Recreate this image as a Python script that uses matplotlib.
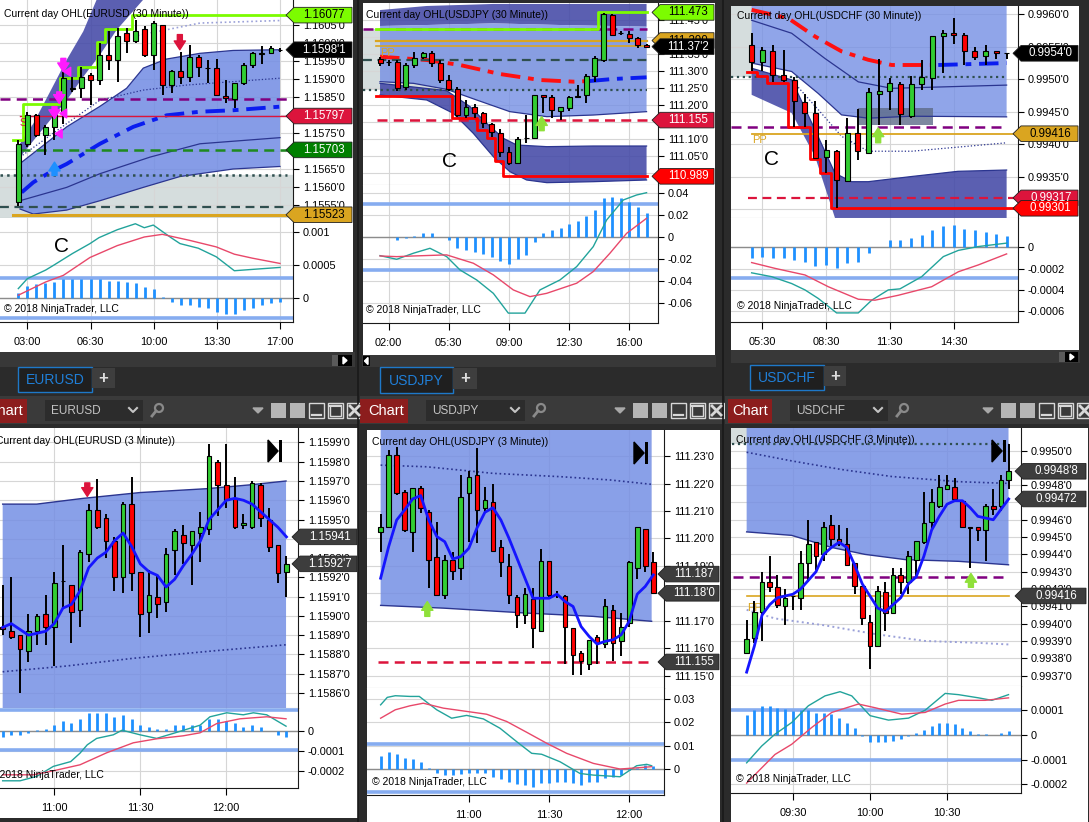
import numpy as np
import matplotlib
matplotlib.use("Agg")
import matplotlib.pyplot as plt
from matplotlib.patches import Rectangle, Polygon, Circle

plt.rcParams["font.family"] = ["Liberation Sans", "DejaVu Sans"]

W, H = 1089, 822

GREEN = "#32cd32"; RED = "#ff0000"; LIME = "#7cfc00"; CRIMSON = "#dc143c"
GOLD = "#daa520"; BAND = "#758fe4"; DARKBAND = "#4449a7"; GRAYZONE = "#d5dddd"
TEAL = "#22a39b"; SIGRED = "#e8486a"; HIST = "#1e90ff"; LEVEL = "#86acf0"
NAVY = "#2b3590"; SLATE = "#2f4f4f"; PURPLE = "#800080"; DKTAG = "#3d3d3d"
ARROWGREEN = "#8fe03a"

# ---------------------------------------------------------------------
# EURUSD 30 min (bars 02:30 .. 17:00)
# ---------------------------------------------------------------------
EU30_O = [1.15558, 1.15718, 1.15799, 1.15744, 1.15767, 1.15804, 1.15872, 1.15874, 1.15911, 1.15897,
          1.15967, 1.15953, 1.16027, 1.16004, 1.16038, 1.15967, 1.1605, 1.15883, 1.15922, 1.15904,
          1.15962, 1.1593, 1.1593, 1.15853, 1.15843, 1.15888, 1.15939, 1.1597, 1.15971, 1.15981]
EU30_H = [1.1573, 1.15809, 1.15804, 1.15771, 1.15813, 1.1592, 1.15906, 1.15934, 1.15916, 1.15999,
          1.16032, 1.16041, 1.16041, 1.16064, 1.16046, 1.1606, 1.1605, 1.15925, 1.15976, 1.15995,
          1.15967, 1.15953, 1.15955, 1.15897, 1.15888, 1.15943, 1.15976, 1.1599, 1.1599, 1.15986]
EU30_L = [1.15548, 1.15711, 1.15739, 1.15688, 1.1573, 1.15776, 1.15864, 1.15846, 1.15827, 1.15883,
          1.15925, 1.15892, 1.15971, 1.15999, 1.15962, 1.15925, 1.15855, 1.15862, 1.15886, 1.15892,
          1.15904, 1.15888, 1.15855, 1.15832, 1.15818, 1.15883, 1.1593, 1.1594, 1.15971, 1.15976]
EU30_C = [1.1572, 1.15799, 1.15744, 1.15767, 1.15804, 1.15902, 1.15876, 1.15906, 1.15897, 1.15967,
          1.15953, 1.16018, 1.16004, 1.16032, 1.15967, 1.16055, 1.15883, 1.15923, 1.15904, 1.15962,
          1.15934, 1.15931, 1.15855, 1.15846, 1.15888, 1.15939, 1.15971, 1.15972, 1.15985, 1.15981]
EU30_HIST = [0.000066, 0.000177, 0.000207, 0.000217, 0.00024, 0.00028, 0.00028, 0.00028, 0.00028, 0.00028,
             0.00025, 0.00025, 0.00024, 0.00022, 0.00016, 0.00013, 0.00002, -0.00006, -0.00011, -0.00011,
             -0.00014, -0.00015, -0.00021, -0.00025, -0.00024, -0.00019, -0.00015, -0.00011, -0.00008, -0.00006]
EU30_MACD_X = [0, 1, 3.03, 4, 6, 7.94, 8.94, 10.97, 12.97, 13.96, 14.96, 16.92, 17.92, 19.95, 21.94, 23.94, 25.93, 29]
EU30_MACD = [0.00014, 0.00029, 0.00042, 0.0005, 0.00067, 0.00082, 0.00091, 0.00103, 0.00112, 0.00106,
             0.0011, 0.00091, 0.00082, 0.00075, 0.00062, 0.00041, 0.00043, 0.00046]
EU30_SIG_X = [0, 3.03, 4.99, 7.94, 10.97, 13.96, 15.96, 18.95, 21.94, 23.94, 25.93, 29]
EU30_SIG = [0.00004, 0.00024, 0.00034, 0.00061, 0.00079, 0.00092, 0.00096, 0.00087, 0.00077, 0.00066, 0.0006, 0.00052]
EU30_BAND_UP_X = [0.18, 3.51, 5.36, 9.05, 12.0, 13.85, 16.4, 20.13, 23.8, 29.0]
EU30_BAND_UP = [1.15665, 1.1573, 1.15767, 1.15824, 1.15874, 1.1593, 1.15955, 1.15971, 1.15979, 1.15981]
EU30_BAND_LO_X = [0.18, 1.66, 5.36, 9.05, 13.85, 17.9, 23.8, 29.0]
EU30_BAND_LO = [1.15539, 1.15525, 1.15536, 1.15562, 1.15599, 1.15629, 1.1565, 1.15657]
EU30_DARK_LO_X = [0.18, 3.51, 5.36, 7.2, 9.05, 10.9, 13.85]
EU30_DARK_LO = [1.15683, 1.15785, 1.15841, 1.15906, 1.15967, 1.16036, 1.1612]
EU30_DARK_UP_X = [0.18, 1.66, 3.51, 5.36, 7.2, 8.68, 13.85]
EU30_DARK_UP = [1.1572, 1.15776, 1.15864, 1.15953, 1.16032, 1.1612, 1.1635]
EU30_VWAP_X = [0.37, 1.66, 3.51, 5.36, 9.05, 12.74, 16.44, 20.13, 23.8, 29.0]
EU30_VWAP = [1.15585, 1.15613, 1.15641, 1.15664, 1.1572, 1.15767, 1.15799, 1.15809, 1.15813, 1.15823]
EU30_SD1_X = [0.18, 5.36, 9.05, 13.85, 18.66, 29.0]
EU30_SD1 = [1.15683, 1.15776, 1.15841, 1.15869, 1.15883, 1.15902]
EU30_SDM1_X = [0.18, 5.36, 9.05, 14.6, 20.13, 29.0]
EU30_SDM1 = [1.15562, 1.15599, 1.15637, 1.15683, 1.1572, 1.15737]
EU30_SD2_X = [12.74, 20.13, 29.0]
EU30_SD2 = [1.16018, 1.16055, 1.16062]
EU30_HIGH_X = [-0.55, 0.55, 4.62, 6.65, 8.68, 9.6, 12.56, 29.74]
EU30_HIGH = [1.1573, 1.15831, 1.15902, 1.15934, 1.16002, 1.16039, 1.16077, 1.16077]

# ---------------------------------------------------------------------
# USDJPY 30 min (bars 01:30 .. 17:00)
# ---------------------------------------------------------------------
UJ30_O = [111.334, 111.3276, 111.3276, 111.2537, 111.3177, 111.3404, 111.3522, 111.3246, 111.2734, 111.2459,
          111.1701, 111.1927, 111.175, 111.1435, 111.1179, 111.0618, 111.0293, 111.1012, 111.1012, 111.2291,
          111.2222, 111.1829, 111.1897, 111.2222, 111.2291, 111.2852, 111.3325, 111.4654, 111.4112, 111.4093,
          111.3965, 111.3768]
UJ30_H = [111.3404, 111.3325, 111.3325, 111.3226, 111.357, 111.357, 111.36, 111.3325, 111.288, 111.2518,
          111.2144, 111.2026, 111.1799, 111.1474, 111.1278, 111.0766, 111.1041, 111.17, 111.2291, 111.2291,
          111.2291, 111.1927, 111.2262, 111.2587, 111.2911, 111.3443, 111.4703, 111.4683, 111.4191, 111.4191,
          111.3994, 111.3807]
UJ30_L = [111.3148, 111.3148, 111.2419, 111.2439, 111.3079, 111.3345, 111.3128, 111.2656, 111.2419, 111.1632,
          111.1602, 111.1602, 111.1307, 111.1041, 111.047, 111.0224, 111.0274, 111.0884, 111.0982, 111.175,
          111.1602, 111.1553, 111.1829, 111.2193, 111.2045, 111.2685, 111.3276, 111.4033, 111.4063, 111.3837,
          111.3669, 111.3689]
UJ30_C = [111.323, 111.3276, 111.2488, 111.3177, 111.3374, 111.3522, 111.3246, 111.2734, 111.2459, 111.1701,
          111.1927, 111.175, 111.1455, 111.1209, 111.0618, 111.0293, 111.0982, 111.1012, 111.2291, 111.2222,
          111.1848, 111.1927, 111.2222, 111.2272, 111.2852, 111.3374, 111.4683, 111.4063, 111.4112, 111.3965,
          111.3768, 111.372]
UJ30_HIST = [0.0, 0.0003, -0.0024, -0.001, 0.0012, 0.0036, 0.0036, 0.0, -0.0024, -0.01,
             -0.012, -0.0136, -0.015, -0.0176, -0.0212, -0.0242, -0.02, -0.016, -0.004, 0.0036,
             0.0067, 0.0082, 0.0121, 0.0152, 0.0194, 0.0248, 0.0355, 0.0364, 0.0355, 0.0324, 0.0279, 0.0218]
UJ30_MACD_X = [0, 1.94, 3.88, 5.81, 7.75, 9.3, 11.24, 13.18, 14.92, 16.86, 18.6, 20.93, 22.87, 24.8, 26.36, 28.3, 29.84, 31]
UJ30_MACD = [-0.0167, -0.02, -0.0145, -0.01, -0.0176, -0.0297, -0.0388, -0.051, -0.069, -0.069,
             -0.0479, -0.0388, -0.0267, -0.0085, 0.0158, 0.034, 0.0385, 0.0406]
UJ30_SIG_X = [0, 1.94, 3.88, 7.75, 10.85, 13.18, 15.5, 17.44, 19.38, 22.87, 24.8, 26.74, 28.68, 31]
UJ30_SIG = [-0.017, -0.0176, -0.017, -0.016, -0.0236, -0.0342, -0.0479, -0.054, -0.051, -0.0418,
            -0.0312, -0.0145, 0.0036, 0.0173]
UJ30_TOP_X = [0, 5.43, 13.18, 20.93, 31.0]
UJ30_TOP_LO = [111.4329, 111.4358, 111.4407, 111.4358, 111.4309]
UJ30_TOP_UP = [111.48, 111.492, 111.498, 111.498, 111.498]
UJ30_BAND_LO_X = [0, 3.88, 7.75, 11.24, 15.1, 19.4, 24.8, 31.0]
UJ30_BAND_LO = [111.2685, 111.2636, 111.2459, 111.2144, 111.18, 111.1652, 111.17, 111.18]
UJ30_DARK_UP_X = [0, 7.75, 10.47, 12.4, 14.34, 15.9, 19.4, 24.8, 31.0]
UJ30_DARK_UP = [111.2636, 111.2419, 111.1947, 111.1455, 111.1012, 111.0815, 111.0766, 111.0785, 111.0785]
UJ30_DARK_LO_X = [0, 5.43, 8.53, 10.85, 13.18, 15.1, 17.05, 19.4, 24.8, 31.0]
UJ30_DARK_LO = [111.2291, 111.2144, 111.175, 111.116, 111.047, 111.0028, 110.9782, 110.9703, 110.9732, 110.9782]
UJ30_VWAP_RED_X = [0, 5.43, 9.3, 13.95, 18.6, 22.5, 24.4]
UJ30_VWAP_RED = [111.3423, 111.3325, 111.3177, 111.2911, 111.2734, 111.2685, 111.2705]
UJ30_VWAP_BLUE_X = [24.4, 27.1, 31.0]
UJ30_VWAP_BLUE = [111.2705, 111.2764, 111.2813]
UJ30_LOW_X = [-0.47, 8.33, 11.32, 12.4, 13.37, 14.34, 31.0]
UJ30_LOW = [111.2262, 111.1602, 111.1258, 111.1012, 111.0342, 110.989, 110.989]
UJ30_HIGH_X = [-0.47, 25.4, 31.0]
UJ30_HIGH = [111.423, 111.473, 111.473]

# ---------------------------------------------------------------------
# USDCHF 30 min (bars 05:00 .. 17:00)
# ---------------------------------------------------------------------
UC30_O = [0.99553, 0.99527, 0.99544, 0.99507, 0.99499, 0.99465, 0.99448, 0.9938, 0.9939, 0.99343,
          0.99417, 0.99387, 0.99478, 0.99482, 0.99493, 0.99443, 0.99492, 0.99502, 0.99567, 0.99572,
          0.99568, 0.99543, 0.99536, 0.99543, 0.9954]
UC30_H = [0.99571, 0.9955, 0.99553, 0.99545, 0.99503, 0.99477, 0.99466, 0.99407, 0.99391, 0.9944,
          0.99454, 0.99486, 0.99532, 0.99502, 0.99496, 0.99505, 0.9953, 0.99567, 0.99576, 0.99595,
          0.99572, 0.9955, 0.99553, 0.99543, 0.9954]
UC30_L = [0.99512, 0.99512, 0.99496, 0.99496, 0.99427, 0.99427, 0.99377, 0.99355, 0.99301, 0.99343,
          0.99375, 0.99387, 0.9943, 0.99453, 0.9943, 0.9944, 0.99484, 0.99483, 0.9951, 0.99555,
          0.99522, 0.9953, 0.99522, 0.99532, 0.99531]
UC30_C = [0.99527, 0.99545, 0.99507, 0.99499, 0.99466, 0.99448, 0.99378, 0.99391, 0.99345, 0.99417,
          0.99389, 0.9948, 0.99482, 0.99494, 0.99447, 0.99493, 0.99503, 0.99567, 0.99571, 0.99568,
          0.99543, 0.99534, 0.99543, 0.9954, 0.9954]
UC30_HIST = [-0.000104, -0.000088, -0.0001, -0.0001, -0.00012, -0.000135, -0.000176, -0.000166, -0.000198, -0.00015,
             -0.000135, -0.00005, 0.000005, 0.000063, 0.000063, 0.000085, 0.000116, 0.000163, 0.0002, 0.000207,
             0.00017, 0.000163, 0.000138, 0.000126, 0.000107]
UC30_MACD_X = [0, 1.88, 3.76, 5.02, 6.27, 7.99, 10.03, 11.29, 12.85, 13.95, 15.99, 18.03, 19.44, 21.32, 23.98]
UC30_MACD = [-0.00024, -0.000276, -0.00034, -0.0004, -0.00048, -0.000615, -0.000615, -0.000496, -0.0004, -0.00039,
             -0.000276, -0.000088, -0.00003, 0.000006, 0.000038]
UC30_SIG_X = [0, 2.19, 5.02, 7.21, 10.03, 11.6, 13.79, 16.93, 19.44, 21.32, 23.98]
UC30_SIG = [-0.000144, -0.000198, -0.00026, -0.00037, -0.000487, -0.000496, -0.00045, -0.00037, -0.00023,
            -0.000166, -0.000063]
UC30_BAND_LO_X = [0, 3.76, 6.27, 8.46, 10.97, 15.05, 23.98]
UC30_BAND_LO = [0.99525, 0.99512, 0.99478, 0.99445, 0.9944, 0.99443, 0.99442]
UC30_DARK_UP_X = [0, 3.76, 5.96, 7.84, 9.4, 10.97, 15.05, 19.4, 23.98]
UC30_DARK_UP = [0.99517, 0.99499, 0.99422, 0.99355, 0.99342, 0.99342, 0.9935, 0.99358, 0.9936]
UC30_DARK_LO_X = [0, 3.76, 5.96, 7.84, 23.98]
UC30_DARK_LO = [0.99476, 0.99448, 0.99381, 0.99286, 0.9928]
UC30_VWAP_RED_X = [0, 3.45, 5.96, 8.46, 10.97, 13.17, 16.3, 17.55]
UC30_VWAP_RED = [0.99607, 0.99594, 0.99566, 0.99543, 0.9953, 0.99522, 0.99522, 0.99522]
UC30_VWAP_BLUE_X = [17.55, 23.98]
UC30_VWAP_BLUE = [0.99522, 0.99525]
UC30_SD1_X = [0, 3.76, 6.9, 10.03, 13.17, 23.98]
UC30_SD1 = [0.99591, 0.99571, 0.99532, 0.99496, 0.99486, 0.99491]
UC30_SDM_X = [3.76, 6.27, 8.46, 10.97, 15.05, 23.98]
UC30_SDM = [0.99499, 0.99453, 0.99412, 0.99389, 0.99389, 0.99402]
UC30_LOW_X = [-0.47, 0.47, 1.41, 3.45, 5.49, 6.43, 7.46, 25.05]
UC30_LOW = [0.99511, 0.99505, 0.99494, 0.99426, 0.99377, 0.99355, 0.99301, 0.99301]

# ---------------------------------------------------------------------
# EURUSD 3 min (bars 10:42 .. 12:21)
# ---------------------------------------------------------------------
EU3_O = [1.15894, 1.15892, 1.1589, 1.15882, 1.15892, 1.15901, 1.15894, 1.15918, 1.15916, 1.15903,
         1.15932, 1.15955, 1.15951, 1.15939, 1.1592, 1.15958, 1.15923, 1.15902, 1.1591, 1.15907,
         1.15934, 1.15942, 1.15937, 1.15943, 1.15945, 1.1598, 1.15968, 1.15961, 1.15947, 1.15946,
         1.15968, 1.1595, 1.15937, 1.15923]
EU3_H = [1.15916, 1.1592, 1.1589, 1.15901, 1.15901, 1.15911, 1.15923, 1.15937, 1.15916, 1.15934,
         1.15958, 1.15971, 1.15953, 1.15941, 1.15959, 1.15972, 1.15923, 1.15924, 1.15921, 1.15935,
         1.15945, 1.15947, 1.15944, 1.15954, 1.15989, 1.15981, 1.15989, 1.15972, 1.15953, 1.1597,
         1.15969, 1.15956, 1.15937, 1.15931]
EU3_L = [1.1589, 1.15888, 1.1586, 1.15876, 1.15885, 1.15885, 1.15874, 1.15904, 1.15886, 1.15894,
         1.15928, 1.15945, 1.1593, 1.15913, 1.15912, 1.15913, 1.15889, 1.15891, 1.15899, 1.15902,
         1.15921, 1.15927, 1.15916, 1.15928, 1.15942, 1.15952, 1.15956, 1.15945, 1.15945, 1.15945,
         1.15946, 1.15933, 1.15917, 1.1591]
EU3_C = [1.15893, 1.15889, 1.15883, 1.15892, 1.159, 1.15894, 1.15917, 1.15918, 1.15902, 1.15933,
         1.15955, 1.15946, 1.15939, 1.1592, 1.15958, 1.15922, 1.15901, 1.15911, 1.15906, 1.15932,
         1.15944, 1.15938, 1.15944, 1.15946, 1.15983, 1.15968, 1.1596, 1.15946, 1.15948, 1.15969,
         1.15951, 1.15936, 1.15922, 1.15927]
EU3_MA = [1.15894, 1.15896, 1.15893, 1.1589, 1.15891, 1.15892, 1.15896, 1.15904, 1.15906, 1.15913,
          1.15925, 1.1593, 1.15933, 1.15939, 1.15943, 1.15936, 1.15927, 1.15923, 1.15921, 1.15915,
          1.15919, 1.15926, 1.15932, 1.15939, 1.1595, 1.15955, 1.1596, 1.15961, 1.1596, 1.15958,
          1.15954, 1.1595, 1.15946, 1.15941]
EU3_HIST = [-0.00003, -0.00002, -0.00002, -0.00001, 0.000003, 0.00001, 0.00003, 0.00005, 0.00004, 0.00006,
            0.00009, 0.00009, 0.00009, 0.00007, 0.00008, 0.00006, 0.00003, 0.00002, 0.00001, 0.00001,
            0.00003, 0.00003, 0.00003, 0.00003, 0.00006, 0.00006, 0.00005, 0.00004, 0.00002, 0.00003,
            0.00002, 0.0, -0.00002, -0.00003]
EU3_MACD_X = [0, 2.02, 3.95, 5.89, 7.91, 8.99, 9.84, 10.93, 12.87, 13.88, 15.97, 17.9, 19.84, 22.95, 24.1,
              26.05, 27.98, 29.15, 30.7, 32.95]
EU3_MACD = [-0.00025, -0.00025, -0.000228, -0.000178, -0.000154, -0.000112, -0.00007, -0.000038, -0.00002, 0.000003,
            -0.00002, -0.000038, -0.000013, 0.000028, 0.00007, 0.00009, 0.00008, 0.00009, 0.00008, 0.000023]
EU3_SIG_X = [0, 3.57, 5.89, 8.99, 12.09, 15.19, 17.9, 21.0, 22.95, 24.88, 27.6, 30.7, 32.95]
EU3_SIG = [-0.00022, -0.00022, -0.0002, -0.00017, -0.00011, -0.00006, -0.00004, -0.000025, -0.00001,
           0.000036, 0.00006, 0.00007, 0.00006]
EU3_BAND_X = [0, 3.95, 9.38, 15.97, 23.7, 28.76, 32.95]
EU3_BAND = [1.15958, 1.15958, 1.15961, 1.15964, 1.15966, 1.15968, 1.1597]
EU3_DOT_X = [0, 7.44, 15.2, 24.9, 32.95]
EU3_DOT = [1.15871, 1.15874, 1.15878, 1.15882, 1.15885]

# ---------------------------------------------------------------------
# USDJPY 3 min (bars 10:27 .. 12:09)
# ---------------------------------------------------------------------
UJ3_O = [111.2025, 111.2043, 111.2304, 111.217, 111.2022, 111.2182, 111.2098, 111.1931, 111.1795, 111.1922,
         111.1891, 111.2164, 111.2231, 111.2112, 111.2131, 111.197, 111.1901, 111.1785, 111.1722, 111.178,
         111.1664, 111.1918, 111.1795, 111.1792, 111.1673, 111.1582, 111.1542, 111.1639, 111.1615, 111.174,
         111.1625, 111.1691, 111.1892, 111.2035, 111.1913]
UJ3_H = [111.2088, 111.2322, 111.2334, 111.2176, 111.2182, 111.2192, 111.2104, 111.2061, 111.194, 111.1952,
         111.2231, 111.2245, 111.2328, 111.2188, 111.22, 111.1994, 111.1942, 111.1795, 111.1819, 111.1821,
         111.1962, 111.1918, 111.1807, 111.1795, 111.1673, 111.1588, 111.1631, 111.1649, 111.178, 111.1758,
         111.1728, 111.1916, 111.2043, 111.2035, 111.1952]
UJ3_L = [111.1952, 111.2043, 111.2158, 111.2022, 111.1952, 111.2092, 111.1821, 111.1795, 111.178, 111.1849,
         111.1849, 111.1988, 111.1982, 111.2092, 111.1955, 111.1861, 111.1761, 111.1673, 111.1688, 111.16,
         111.1664, 111.1782, 111.1782, 111.1542, 111.1504, 111.1504, 111.1522, 111.1542, 111.16, 111.1552,
         111.157, 111.1679, 111.1853, 111.1879, 111.18]
UJ3_C = [111.2043, 111.2304, 111.2164, 111.2031, 111.2182, 111.211, 111.1922, 111.1795, 111.1922, 111.1882,
         111.2152, 111.2225, 111.2104, 111.214, 111.1955, 111.1913, 111.1795, 111.1722, 111.1797, 111.1673,
         111.1918, 111.1795, 111.1795, 111.1676, 111.1574, 111.1552, 111.1631, 111.1619, 111.1752, 111.1619,
         111.1679, 111.1913, 111.2043, 111.1901, 111.18]
UJ3_MA = [111.1855, 111.197, 111.2067, 111.2104, 111.2144, 111.2156, 111.2067, 111.2007, 111.1988, 111.1925,
          111.1934, 111.1964, 111.2037, 111.2095, 111.2112, 111.2067, 111.2001, 111.1928, 111.1855, 111.1782,
          111.1782, 111.1782, 111.1797, 111.177, 111.1752, 111.1679, 111.1643, 111.1615, 111.1625, 111.1631,
          111.1649, 111.1698, 111.1797, 111.1825, 111.1867]
UJ3_HIST = [0.0057, 0.0071, 0.0063, 0.0046, 0.0041, 0.0031, 0.0003, -0.0019, -0.0026, -0.0026,
            -0.0023, -0.0019, -0.0019, -0.0019, -0.0033, -0.0043, -0.0054, -0.0066, -0.0069, -0.0076,
            -0.0061, -0.0061, -0.0054, -0.0054, -0.0061, -0.0069, -0.0057, -0.0054, -0.0037, -0.0033,
            -0.0026, -0.0004, 0.0003, 0.0017, 0.0014]
UJ3_MACD_X = [0, 0.83, 1.83, 3.66, 4.82, 6.99, 8.86, 10.73, 12.81, 14.89, 16.96, 18.84, 20.08, 22.37, 24.86,
              26.53, 29.85, 31.93, 33.18, 33.8]
UJ3_MACD = [0.0274, 0.0306, 0.0313, 0.031, 0.031, 0.0253, 0.0217, 0.0229, 0.0214, 0.0174,
            0.0117, 0.0067, 0.0063, 0.0031, -0.0019, -0.0026, -0.0033, 0.0014, 0.002, 0.0014]
UJ3_SIG_X = [0, 1.83, 3.66, 5.32, 7.82, 10.73, 13.22, 15.72, 18.21, 20.71, 23.2, 26.53, 29.85, 32.35, 33.8]
UJ3_SIG = [0.0217, 0.0253, 0.027, 0.0281, 0.026, 0.0246, 0.0234, 0.0203, 0.0157, 0.011, 0.0067, 0.0024,
           0.0, 0.0006, 0.001]
UJ3_BAND_X = [0, 7.82, 18.2, 26.5, 33.8]
UJ3_BAND = [111.1756, 111.1746, 111.1728, 111.1716, 111.1698]
UJ3_DOT_X = [0, 5.74, 14.05, 22.4, 28.6, 33.8]
UJ3_DOT = [111.2267, 111.2261, 111.2237, 111.2225, 111.2213, 111.2197]

# ---------------------------------------------------------------------
# USDCHF 3 min (bars 09:12 .. 10:54)
# ---------------------------------------------------------------------
UC3_O = [0.99383, 0.99392, 0.99407, 0.99424, 0.99421, 0.9941, 0.99416, 0.99415, 0.99435, 0.99447,
         0.9944, 0.99457, 0.99449, 0.99446, 0.99435, 0.99422, 0.99401, 0.99387, 0.99418, 0.99406,
         0.99428, 0.99424, 0.99437, 0.99447, 0.99459, 0.99468, 0.99478, 0.99479, 0.99471, 0.99456,
         0.99456, 0.99454, 0.99468, 0.99468, 0.99483]
UC3_H = [0.99402, 0.99413, 0.9943, 0.99439, 0.99428, 0.9942, 0.99416, 0.99442, 0.9946, 0.99447,
         0.99459, 0.99463, 0.99457, 0.99455, 0.99435, 0.99422, 0.99405, 0.99422, 0.99424, 0.99432,
         0.99432, 0.99442, 0.99448, 0.99476, 0.99478, 0.99486, 0.99486, 0.99484, 0.99471, 0.99456,
         0.99456, 0.99469, 0.99478, 0.99486, 0.99504]
UC3_L = [0.99383, 0.99389, 0.9939, 0.99418, 0.99409, 0.99399, 0.99408, 0.99408, 0.99424, 0.99431,
         0.99436, 0.99445, 0.99445, 0.99434, 0.99417, 0.99399, 0.99374, 0.99387, 0.99396, 0.99406,
         0.99417, 0.99417, 0.99427, 0.99446, 0.99454, 0.99467, 0.99478, 0.99471, 0.99456, 0.99432,
         0.99448, 0.99436, 0.99463, 0.99465, 0.99478]
UC3_C = [0.99391, 0.99407, 0.99424, 0.99421, 0.99411, 0.99415, 0.99416, 0.99435, 0.99446, 0.99439,
         0.99456, 0.99449, 0.99447, 0.99434, 0.99422, 0.99403, 0.99387, 0.99419, 0.99406, 0.99428,
         0.99424, 0.99439, 0.99448, 0.99458, 0.9947, 0.99479, 0.9948, 0.99472, 0.99456, 0.99455,
         0.99454, 0.99468, 0.99466, 0.99483, 0.99488]
UC3_MA = [0.99372, 0.99387, 0.99405, 0.99411, 0.99415, 0.99416, 0.99417, 0.9942, 0.99425, 0.9943,
          0.9944, 0.99444, 0.99447, 0.99444, 0.99434, 0.99423, 0.99416, 0.99409, 0.99407, 0.99411,
          0.99415, 0.99423, 0.99427, 0.99439, 0.99454, 0.99462, 0.99469, 0.99471, 0.99471, 0.99467,
          0.99462, 0.99461, 0.9946, 0.99466, 0.99472]
UC3_HIST = [0.000082, 0.0001, 0.000118, 0.000118, 0.00011, 0.000105, 0.000095, 0.0001, 0.0001, 0.00009,
            0.00009, 0.000084, 0.00007, 0.00005, 0.000027, -0.000004, -0.00003, -0.00003, -0.00003, -0.000024,
            -0.000015, -0.000004, 0.000007, 0.000019, 0.000037, 0.000048, 0.00005, 0.000044, 0.00003, 0.000016,
            0.000003, 0.000003, 0.0, 0.000007, 0.000014]
UC3_MACD_X = [0, 1.95, 3.68, 5.84, 8.01, 10.17, 12.12, 13.64, 16.02, 18.4, 21.0, 23.16, 25.76, 27.49, 30.09,
              31.82, 33.98]
UC3_MACD = [-0.000113, -0.000045, 0.000003, 0.00005, 0.000118, 0.000158, 0.000175, 0.000158, 0.000078, 0.00006,
            0.000068, 0.0001, 0.000168, 0.000163, 0.00015, 0.00014, 0.000163]
UC3_SIG_X = [0, 3.68, 5.84, 8.44, 11.04, 14.5, 16.67, 20.13, 23.16, 25.76, 27.49, 30.95, 33.98]
UC3_SIG = [-0.000195, -0.000079, -0.000038, 0.00003, 0.000091, 0.000125, 0.00011, 0.000084, 0.000091,
           0.000125, 0.00014, 0.00014, 0.00015]
UC3_BAND_X = [0, 5.84, 11.04, 15.37, 20.56, 27.5, 33.98]
UC3_BAND = [0.99453, 0.99451, 0.99444, 0.9944, 0.99437, 0.99436, 0.99434]
UC3_DOT_X = [0, 5.84, 12.34, 18.8, 27.5, 33.98]
UC3_DOT = [0.99499, 0.99494, 0.99489, 0.99485, 0.99482, 0.99481]
UC3_DOT2_X = [0, 3.68, 10.17, 16.67, 23.16, 29.65, 33.98]
UC3_DOT2 = [0.99408, 0.99403, 0.99399, 0.99394, 0.9939, 0.99389, 0.99388]

# tick labels
EU30_TIMES = ["03:00", "06:30", "10:00", "13:30", "17:00"]
UJ30_TIMES = ["02:00", "05:30", "09:00", "12:30", "16:00"]
UC30_TIMES = ["05:30", "08:30", "11:30", "14:30"]
EU3_TIMES = ["11:00", "11:30", "12:00"]
UJ3_TIMES = ["11:00", "11:30", "12:00"]
UC3_TIMES = ["09:30", "10:00", "10:30"]


fig = plt.figure(figsize=(W / 100, H / 100), dpi=100, facecolor="#2b2b2b")


def px_axes(x0, y0, x1, y1, **kw):
    return fig.add_axes([x0 / W, 1 - y1 / H, (x1 - x0) / W, (y1 - y0) / H], **kw)


bg = px_axes(0, 0, W, H)
bg.set_xlim(0, W); bg.set_ylim(H, 0); bg.axis("off")


def box(a, x0, y0, x1, y1, fc, ec="none", lw=0, z=1):
    a.add_patch(Rectangle((x0, y0), x1 - x0, y1 - y0, facecolor=fc, edgecolor=ec, linewidth=lw, zorder=z))


# ---------------------------------------------------------------------
# window chrome
# ---------------------------------------------------------------------
for (x0, y0, x1, y1) in [(0, 0, 353, 352), (363, 3, 715, 355), (731, 6, 1079, 350),
                         (0, 428, 358, 818), (367, 430, 720, 822), (731, 428, 1088, 822)]:
    box(bg, x0, y0, x1, y1, "white")

# scroll bars
box(bg, 0, 352, 355, 367, "#383838"); box(bg, 338, 355, 352, 366, "black"); box(bg, 332, 355, 338, 366, "#5a5a5a")
bg.add_patch(Polygon([[343, 357], [343, 364], [347, 360.5]], color="white"))
box(bg, 362, 355, 716, 367, "#383838"); box(bg, 363, 356, 370, 366, "black")
bg.add_patch(Polygon([[368, 357.5], [368, 364.5], [364.5, 361]], color="white"))
box(bg, 731, 350, 1080, 363, "#383838"); box(bg, 1065, 352, 1078, 362, "black"); box(bg, 1059, 352, 1065, 362, "#5a5a5a")
bg.add_patch(Polygon([[1070, 354], [1070, 360], [1074, 357]], color="white"))

for (x0, y0, x1, y1, name, px1) in [(18, 367, 92, 392, "EURUSD", 115), (380, 367, 453, 393, "USDJPY", 477),
                                    (750, 365, 824, 390, "USDCHF", 846)]:
    box(bg, x0, y0, x1, y1, "#1f1f1f", ec="#1e78c8", lw=1)
    bg.text((x0 + x1) / 2, (y0 + y1) / 2 + 0.5, name, color="#1f7fd8", fontsize=10, ha="center", va="center")
    box(bg, x1, y0 + 1, px1, y1 - 4, "#3e3e3e")
    bg.text((x1 + px1) / 2, (y0 + y1) / 2 - 1.5, "+", color="#dddddd", fontsize=12, fontweight="bold",
            ha="center", va="center")

for xv in (357.5, 723):
    bg.plot([xv, xv], [0, H], color="#1a1a1a", lw=1.2)

# bottom toolbars
for (x0, x1, cx0, cx1, dx0, dx1, name, tri) in [(0, 358, -5, 27, 45, 143, "EURUSD", 258),
                                                 (360, 722, 360, 408, 426, 525, "USDJPY", 620),
                                                 (725, 1089, 728, 772, 790, 888, "USDCHF", 988)]:
    box(bg, x0, 396, x1, 424, "#3a3a3a")
    box(bg, cx0, 399, cx1, 423, "#8c1d1d")
    bg.text(cx1 - 4, 411, "Chart", color="white", fontsize=10.5, ha="right", va="center")
    box(bg, dx0, 400, dx1, 421, "#2c2c2c")
    bg.text(dx0 + 6, 411, name, color="#c4c4c4", fontsize=8.5, ha="left", va="center")
    bg.plot([dx1 - 14, dx1 - 10, dx1 - 6], [408, 412, 408], color="#c4c4c4", lw=1.5)
    bg.add_patch(Circle((dx1 + 16, 408), 4, facecolor="none", edgecolor="#8a8a8a", lw=1.6))
    bg.plot([dx1 + 13, dx1 + 9], [411, 416], color="#8a8a8a", lw=2)
    bg.add_patch(Polygon([[tri - 5, 408], [tri + 5, 408], [tri, 413]], color="#a8a8a8"))
    box(bg, tri + 13, 403, tri + 28, 418, "#b5b5b5")
    box(bg, tri + 32, 403, tri + 47, 418, "#b5b5b5")
    box(bg, tri + 51, 403, tri + 66, 418, "none", ec="#d8d8d8", lw=1)
    bg.plot([tri + 54, tri + 63], [415, 415], color="#d8d8d8", lw=1.6)
    box(bg, tri + 70, 403, tri + 85, 418, "none", ec="#d8d8d8", lw=1)
    box(bg, tri + 72, 405, tri + 83, 416, "none", ec="#d8d8d8", lw=1)
    bg.plot([tri + 72, tri + 83], [406, 406], color="#d8d8d8", lw=1.5)
    box(bg, tri + 89, 403, tri + 104, 418, "none", ec="#d8d8d8", lw=1)
    bg.plot([tri + 92, tri + 101], [406, 415], color="#d8d8d8", lw=2)
    bg.plot([tri + 92, tri + 101], [415, 406], color="#d8d8d8", lw=2)


# ---------------------------------------------------------------------
# helpers
# ---------------------------------------------------------------------
def panel(geo, xlim, ylim, yticks, yfmt, xticks, xlabels, ilim, iticks, ilabels,
          title, title_off, copy_off):
    x0, x1, y0, ys, y1, tx0, tx1 = geo
    ax = px_axes(x0, y0, x1, ys)
    ia = px_axes(x0, ys, x1, y1, sharex=ax)
    for a in (ax, ia):
        a.set_facecolor("white")
        a.spines["left"].set_visible(False); a.spines["top"].set_visible(False)
        a.spines["right"].set_color("#1a1a1a")
        a.yaxis.tick_right()
        a.grid(True, color="#d6d6d6", lw=0.8)
        a.set_axisbelow(True)
        a.tick_params(axis="y", length=4, pad=3, labelsize=7.9, colors="black", width=0.8)
    ax.spines["bottom"].set_color("#a8a8a8")
    ia.spines["bottom"].set_color("#1a1a1a")
    ax.set_xlim(*xlim); ax.set_ylim(*ylim)
    ax.set_yticks(yticks, labels=[yfmt(v) for v in yticks])
    ia.set_xticks(xticks, labels=xlabels)
    ax.tick_params(axis="x", length=0, labelbottom=False)
    ia.tick_params(axis="x", length=5, pad=6, labelsize=7.9, width=0.8)
    ia.set_ylim(*ilim)
    ia.set_yticks(iticks, labels=ilabels)
    ia.axhline(0, color="#8c8c8c", lw=1, zorder=1)
    pw, ph = x1 - x0, ys - y0
    ax.text(title_off[0] / pw, 1 - title_off[1] / ph, title, transform=ax.transAxes, fontsize=7.5,
            ha="left", va="center", zorder=8)
    ih = y1 - ys
    ia.text(copy_off[0] / pw, 1 - copy_off[1] / ih, "\u00a9 2018 NinjaTrader, LLC", transform=ia.transAxes,
            fontsize=7.5, ha="left", va="center", zorder=8)
    tax = px_axes(tx0, y0, tx1, ys, sharey=ax)
    tax.set_xlim(0, 1); tax.axis("off")
    tax.half = 7.8 / ph * (ylim[1] - ylim[0])
    tax.tip = 8.0 / (tx1 - tx0)
    ax.set_ylim(*ylim)
    return ax, ia, tax


def tag(tax, v, text, fc, tc="white"):
    h, t = tax.half, tax.tip
    tax.add_patch(Polygon([[0, v], [t, v + h], [1, v + h], [1, v - h], [t, v - h]], closed=True,
                          facecolor=fc, edgecolor="#202020", lw=0.6, clip_on=False))
    tax.text((1 + t) / 2 + 0.02, v, text, color=tc, fontsize=8.3, ha="center", va="center", clip_on=False)


def candles(ax, o, h, l, c, width):
    o, h, l, c = map(np.asarray, (o, h, l, c))
    x = np.arange(len(o))
    ax.vlines(x, l, h, color="black", lw=1.4, zorder=4)
    col = np.where(c >= o, GREEN, RED)
    ax.bar(x, np.abs(c - o), bottom=np.minimum(o, c), width=width, color=col,
           edgecolor="black", linewidth=0.8, zorder=5)


def macd(ia, hist, mx, mv, sx, sv, levels):
    for lv in levels:
        ia.axhline(lv, color=LEVEL, lw=2.6, zorder=1.5)
    ia.vlines(np.arange(len(hist)), 0, hist, color=HIST, lw=2, zorder=2)
    ia.plot(mx, mv, color=TEAL, lw=1, zorder=3)
    ia.plot(sx, sv, color=SIGRED, lw=1, zorder=3)


def fill_poly(ax, xa, ya, xb, yb, color, alpha=0.88, z=1.2):
    ax.fill(np.r_[xa, np.asarray(xb)[::-1]], np.r_[ya, np.asarray(yb)[::-1]], color=color,
            alpha=alpha, lw=0, zorder=z)


def level(ax, y, xa, xb, color, ls="-", lw=1.5, z=3):
    ax.plot([xa, xb], [y, y], color=color, ls=ls, lw=lw, zorder=z)


def arrow(ax, tail, tip, color, scale=9):
    ax.annotate("", xy=tip, xytext=tail, zorder=6,
                arrowprops=dict(arrowstyle="simple,head_width=0.9,head_length=0.7,tail_width=0.4",
                                color=color, mutation_scale=scale, shrinkA=0, shrinkB=0))


def fmt4(v):
    return f"{v:.4f}'0"


def fmt2(v):
    return f"{v:.2f}'0"


DASH = (0, (4, 2.5))
DASHDOT = (0, (5, 2, 1.5, 2))

# ---------------------------------------------------------------------
# 1. EURUSD 30 min
# ---------------------------------------------------------------------
ax, ia, tax = panel((0, 293, 0, 218, 322, 286, 352), (-2.03, 30.44), (1.15514, 1.16119),
                    [1.1555, 1.156, 1.1565, 1.157, 1.1575, 1.158, 1.1585, 1.159, 1.1595, 1.16, 1.1605], fmt4,
                    [1, 8, 15, 22, 29], EU30_TIMES, (-0.000365, 0.001207), [0, 0.0005, 0.001],
                    ["0", "0.0005", "0.001"], "Current day OHL(EURUSD (30 Minute))", (4, 14), (4, 91))
ax.axhspan(1.15, 1.15634, color=GRAYZONE, zorder=0.4)
fill_poly(ax, EU30_BAND_LO_X, EU30_BAND_LO, EU30_BAND_UP_X, EU30_BAND_UP, BAND)
fill_poly(ax, EU30_DARK_LO_X, EU30_DARK_LO, EU30_DARK_UP_X, EU30_DARK_UP, DARKBAND)
for xs, ys in [(EU30_BAND_LO_X, EU30_BAND_LO), (EU30_BAND_UP_X, EU30_BAND_UP), (EU30_SDM1_X, EU30_SDM1)]:
    ax.plot(xs, ys, color=NAVY, lw=0.9, zorder=2)
ax.plot(EU30_SD1_X, EU30_SD1, color=NAVY, lw=0.9, ls=":", zorder=2)
ax.plot(EU30_SD2_X, EU30_SD2, color="#9aa0d8", lw=1.2, ls=":", zorder=2)
ax.plot(EU30_VWAP_X, EU30_VWAP, color="#0a1cf0", lw=2.8, ls=DASHDOT, zorder=2.5)
level(ax, 1.15844, -2.03, 29.74, PURPLE, DASH, 1.8)
level(ax, 1.15797, 0.18, 29.74, CRIMSON, "-", 1.0)
level(ax, 1.15703, 0.18, 29.74, "#1f8a1f", DASH, 1.8)
level(ax, 1.15634, -2.03, 29.74, SLATE, ":", 1.8)
level(ax, 1.15545, -2.03, 29.74, SLATE, DASH, 1.6)
level(ax, 1.15523, -0.55, 29.74, GOLD, "-", 2.2)
ax.step(EU30_HIGH_X, EU30_HIGH, where="post", color=LIME, lw=2, zorder=3)
ax.text(0.15, 1.15778, "S1", color=CRIMSON, fontsize=7.5, ha="left", va="center", zorder=3)
candles(ax, EU30_O, EU30_H, EU30_L, EU30_C, 0.55)
arrow(ax, (4.99, 1.15957), (4.99, 1.1592), "#ff1aff")
arrow(ax, (4.53, 1.15864), (4.53, 1.15832), "#ff1aff")
arrow(ax, (4.01, 1.15823), (4.01, 1.1579), "#ff1aff")
arrow(ax, (5.5, 1.1592), (5.05, 1.1592), "#ff1aff", 7)
arrow(ax, (5.05, 1.15804), (4.6, 1.15804), "#ff1aff", 7)
arrow(ax, (4.55, 1.15748), (4.1, 1.15748), "#ff1aff", 7)
arrow(ax, (4.01, 1.15632), (4.01, 1.15669), "#1e90ff")
arrow(ax, (17.9, 1.16023), (17.9, 1.15981), CRIMSON)
macd(ia, EU30_HIST, EU30_MACD_X, EU30_MACD, EU30_SIG_X, EU30_SIG, [0.0003, -0.0003])
ia.text(4.77, 0.00077, "C", fontsize=15, ha="center", va="center")
tag(tax, 1.16077, "1.16077", LIME, "black")
tag(tax, 1.15981, "1.1598'1", "black")
tag(tax, 1.15797, "1.15797", CRIMSON)
tag(tax, 1.15703, "1.15703", "#008000")
tag(tax, 1.15523, "1.15523", GOLD, "black")

# ---------------------------------------------------------------------
# 2. USDJPY 30 min
# ---------------------------------------------------------------------
ax, ia, tax = panel((363, 658, 3, 185, 323, 652, 714), (-1.98, 32.33), (110.9634, 111.5008),
                    [111.0, 111.05, 111.1, 111.15, 111.2, 111.25, 111.3, 111.35, 111.4, 111.45], fmt2,
                    [1, 8, 15, 22, 29], UJ30_TIMES, (-0.078, 0.0476), [-0.06, -0.04, -0.02, 0, 0.02, 0.04],
                    ["-0.06", "-0.04", "-0.02", "0", "0.02", "0.04"], "Current day OHL(USDJPY (30 Minute))",
                    (3, 12), (3, 125))
ax.fill_between([-1.94, 31.0], 111.2439, 111.423, color=GRAYZONE, zorder=0.4, lw=0)
fill_poly(ax, UJ30_TOP_X, UJ30_TOP_LO, UJ30_TOP_X, UJ30_TOP_UP, DARKBAND)
fill_poly(ax, UJ30_BAND_LO_X, UJ30_BAND_LO, UJ30_TOP_X, UJ30_TOP_LO, BAND, 0.8)
fill_poly(ax, UJ30_DARK_LO_X, UJ30_DARK_LO, UJ30_DARK_UP_X, UJ30_DARK_UP, DARKBAND)
for xs, ys in [(UJ30_BAND_LO_X, UJ30_BAND_LO), (UJ30_DARK_LO_X, UJ30_DARK_LO), (UJ30_DARK_UP_X, UJ30_DARK_UP)]:
    ax.plot(xs, ys, color=NAVY, lw=0.9, zorder=2)
ax.plot(UJ30_VWAP_RED_X, UJ30_VWAP_RED, color="#ff1010", lw=2.8, ls=DASHDOT, zorder=2.5)
ax.plot(UJ30_VWAP_BLUE_X, UJ30_VWAP_BLUE, color="#0a1cf0", lw=2.8, ls=DASHDOT, zorder=2.5)
level(ax, 111.423, -1.94, 31.0, PURPLE, DASH, 1.8)
level(ax, 111.390, -0.47, 31.0, GOLD, "-", 1.6)
level(ax, 111.3738, -0.47, 31.0, GOLD, "-", 1.2)
level(ax, 111.3325, -1.94, 31.0, SLATE, DASH, 1.6)
level(ax, 111.2439, -1.94, 31.0, SLATE, ":", 1.6)
level(ax, 111.155, -0.39, 31.0, CRIMSON, DASH, 1.8)
ax.step(UJ30_LOW_X, UJ30_LOW, where="post", color="#ff0000", lw=2, zorder=3)
ax.step(UJ30_HIGH_X, UJ30_HIGH, where="post", color=LIME, lw=2, zorder=3)
ax.text(0.0, 111.354, "PP", color=GOLD, fontsize=8, ha="left", va="center", zorder=3)
ax.text(8.06, 111.032, "C", fontsize=15, ha="center", va="center", zorder=3)
candles(ax, UJ30_O, UJ30_H, UJ30_L, UJ30_C, 0.58)
arrow(ax, (18.8, 111.1238), (18.8, 111.1652), ARROWGREEN)
macd(ia, UJ30_HIST, UJ30_MACD_X, UJ30_MACD, UJ30_SIG_X, UJ30_SIG, [0.0303, -0.0297])
tag(tax, 111.473, "111.473", LIME, "black")
tag(tax, 111.390, "111.390", GOLD, "black")
tag(tax, 111.372, "111.37'2", "black")
tag(tax, 111.155, "111.155", CRIMSON)
tag(tax, 110.989, "110.989", "#ff0000")

# ---------------------------------------------------------------------
# 3. USDCHF 30 min
# ---------------------------------------------------------------------
ax, ia, tax = panel((731, 1018, 6, 218, 322, 1013, 1078), (-1.94, 25.05), (0.99286, 0.99613),
                    [0.993, 0.9935, 0.994, 0.9945, 0.995, 0.9955, 0.996], fmt4,
                    [1, 7, 13, 19], UC30_TIMES, (-0.0007, 0.000273), [-0.0006, -0.0004, -0.0002, 0],
                    ["-0.0006", "-0.0004", "-0.0002", "0"], "Current day OHL(USDCHF (30 Minute))",
                    (6, 10), (6, 88))
ax.fill_between([-1.94, 0], 0.99504, 0.9962, color=GRAYZONE, zorder=0.4, lw=0)
fill_poly(ax, UC30_BAND_LO_X, UC30_BAND_LO, [0, 23.98], [0.9962, 0.9962], BAND, 0.8)
fill_poly(ax, UC30_DARK_LO_X, UC30_DARK_LO, UC30_DARK_UP_X, UC30_DARK_UP, DARKBAND)
ax.fill_between([10.03, 17.08], 0.9943, 0.99455, color="#5d6b88", alpha=0.8, zorder=1.6, lw=0)
for xs, ys in [(UC30_BAND_LO_X, UC30_BAND_LO), (UC30_DARK_UP_X, UC30_DARK_UP), (UC30_SD1_X, UC30_SD1)]:
    ax.plot(xs, ys, color=NAVY, lw=0.9, zorder=2)
ax.plot(UC30_SDM_X, UC30_SDM, color=NAVY, lw=0.9, ls=":", zorder=2)
ax.plot(UC30_VWAP_RED_X, UC30_VWAP_RED, color="#ff1010", lw=2.8, ls=DASHDOT, zorder=2.5)
ax.plot(UC30_VWAP_BLUE_X, UC30_VWAP_BLUE, color="#0a1cf0", lw=2.8, ls=DASHDOT, zorder=2.5)
level(ax, 0.99504, -1.94, 23.98, SLATE, ":", 1.6)
level(ax, 0.99427, -1.94, 23.98, PURPLE, DASH, 1.8)
level(ax, 0.99416, 0, 24.76, GOLD, "-", 1.3)
level(ax, 0.99317, -0.31, 24.76, CRIMSON, DASH, 1.6)
ax.step(UC30_LOW_X, UC30_LOW, where="post", color="#ff0000", lw=2, zorder=3)
ax.text(0.0, 0.99406, "PP", color=GOLD, fontsize=8, ha="left", va="center", zorder=3)
ax.text(1.88, 0.99377, "C", fontsize=15, ha="center", va="center", zorder=3)
candles(ax, UC30_O, UC30_H, UC30_L, UC30_C, 0.47)
arrow(ax, (11.9, 0.99402), (11.9, 0.99425), ARROWGREEN)
macd(ia, UC30_HIST, UC30_MACD_X, UC30_MACD, UC30_SIG_X, UC30_SIG, [-0.000292])
tag(tax, 0.9954, "0.9954'0", "black")
tag(tax, 0.99416, "0.99416", GOLD, "black")
tag(tax, 0.99317, "0.99317", CRIMSON)
tag(tax, 0.99301, "0.99301", "#ff0000")

# ---------------------------------------------------------------------
# 4. EURUSD 3 min
# ---------------------------------------------------------------------
ax, ia, tax = panel((0, 298, 428, 708, 788, 292, 357), (-0.31, 34.34), (1.158522, 1.159975),
                    [1.1586, 1.1587, 1.1588, 1.1589, 1.159, 1.1591, 1.1592, 1.1593, 1.1594, 1.1595, 1.1596,
                     1.1597, 1.1598, 1.1599], fmt4,
                    [6, 16, 26], EU3_TIMES, (-0.000286, 0.000114), [-0.0002, -0.0001, 0],
                    ["-0.0002", "-0.0001", "0"], "Current day OHL(EURUSD (3 Minute))", (-4, 13), (-11, 67))
fill_poly(ax, EU3_BAND_X, EU3_BAND, [0, 32.95], [1.1584, 1.1584], BAND, 0.85)
ax.plot(EU3_BAND_X, EU3_BAND, color=NAVY, lw=1, zorder=2)
ax.plot(EU3_DOT_X, EU3_DOT, color=NAVY, lw=1.2, ls=":", zorder=2)
candles(ax, EU3_O, EU3_H, EU3_L, EU3_C, 0.55)
ax.plot(np.arange(len(EU3_MA)), EU3_MA, color="#1515ff", lw=2, zorder=6)
arrow(ax, (9.84, 1.15969), (9.84, 1.15962), CRIMSON)
macd(ia, EU3_HIST, EU3_MACD_X, EU3_MACD, EU3_SIG_X, EU3_SIG, [0.000106, -0.0000975])
tag(tax, 1.15941, "1.15941", DKTAG)
tag(tax, 1.15927, "1.1592'7", DKTAG)

# ---------------------------------------------------------------------
# 5. USDJPY 3 min
# ---------------------------------------------------------------------
ax, ia, tax = panel((367, 664, 430, 688, 795, 658, 719), (-1.7, 35.34), (111.1455, 111.2395),
                    [111.15, 111.16, 111.17, 111.18, 111.19, 111.2, 111.21, 111.22, 111.23], fmt2,
                    [11, 21, 31], UJ3_TIMES, (-0.0111, 0.0346), [0, 0.01, 0.02, 0.03],
                    ["0", "0.01", "0.02", "0.03"], "Current day OHL(USDJPY (3 Minute))", (5, 12), (5, 94))
fill_poly(ax, UJ3_BAND_X, UJ3_BAND, [0, 33.8], [111.245, 111.245], BAND, 0.85)
ax.plot(UJ3_BAND_X, UJ3_BAND, color=NAVY, lw=1, zorder=2)
ax.plot(UJ3_DOT_X, UJ3_DOT, color=NAVY, lw=1.2, ls=":", zorder=2)
level(ax, 111.155, -0.29, 33.8, CRIMSON, DASH, 1.8)
candles(ax, UJ3_O, UJ3_H, UJ3_L, UJ3_C, 0.58)
ax.plot(np.arange(len(UJ3_MA)), UJ3_MA, color="#1515ff", lw=2, zorder=6)
arrow(ax, (5.82, 111.1716), (5.82, 111.177), ARROWGREEN)
macd(ia, UJ3_HIST, UJ3_MACD_X, UJ3_MACD, UJ3_SIG_X, UJ3_SIG, [0.0106, -0.0097])
tag(tax, 111.187, "111.187", DKTAG)
tag(tax, 111.18, "111.18'0", DKTAG)
tag(tax, 111.155, "111.155", DKTAG)

# ---------------------------------------------------------------------
# 6. USDCHF 3 min
# ---------------------------------------------------------------------
ax, ia, tax = panel((731, 1021, 428, 686, 793, 1015, 1086), (-2.03, 35.6), (0.99364, 0.99513),
                    [0.9937, 0.9938, 0.9939, 0.994, 0.9941, 0.9942, 0.9943, 0.9944, 0.9945, 0.9946, 0.9947,
                     0.9948, 0.9949, 0.995], fmt4,
                    [6, 16, 26], UC3_TIMES, (-0.000235, 0.000198), [-0.0002, -0.0001, 0, 0.0001],
                    ["-0.0002", "-0.0001", "0", "0.0001"], "Current day OHL(USDCHF (3 Minute))",
                    (5, 12), (5, 93))
ax.fill_between([-2.03, 0], 0.99504, 0.9952, color=GRAYZONE, zorder=0.4, lw=0)
fill_poly(ax, UC3_BAND_X, UC3_BAND, [0, 33.98], [0.9952, 0.9952], BAND, 0.85)
ax.plot(UC3_BAND_X, UC3_BAND, color=NAVY, lw=1, zorder=2)
ax.plot(UC3_DOT_X, UC3_DOT, color=NAVY, lw=1.2, ls=":", zorder=2)
ax.plot(UC3_DOT2_X, UC3_DOT2, color="#9aa0d8", lw=1.4, ls=":", zorder=2)
level(ax, 0.99504, -1.95, 33.98, SLATE, ":", 1.6)
level(ax, 0.99427, -1.73, 33.98, PURPLE, DASH, 1.8)
level(ax, 0.99416, 0, 33.98, GOLD, "-", 1.2)
ax.text(0.0, 0.99409, "PP", color=GOLD, fontsize=8, ha="left", va="center", zorder=3)
candles(ax, UC3_O, UC3_H, UC3_L, UC3_C, 0.6)
ax.plot(np.arange(len(UC3_MA)), UC3_MA, color="#1515ff", lw=2, zorder=6)
arrow(ax, (29.1, 0.99421), (29.1, 0.99429), ARROWGREEN)
macd(ia, UC3_HIST, UC3_MACD_X, UC3_MACD, UC3_SIG_X, UC3_SIG, [0.0001, -0.0001])
tag(tax, 0.99488, "0.9948'8", DKTAG)
tag(tax, 0.99472, "0.99472", DKTAG)
tag(tax, 0.99416, "0.99416", DKTAG)

# ---------------------------------------------------------------------
# "go to live" icons on top
# ---------------------------------------------------------------------
top = px_axes(0, 0, W, H)
top.set_xlim(0, W); top.set_ylim(H, 0); top.axis("off"); top.set_zorder(20); top.patch.set_alpha(0)
for (ix, iy) in [(268, 440), (634, 442), (992, 440)]:
    top.add_patch(Polygon([[ix, iy], [ix, iy + 22], [ix + 10, iy + 11]], color="black"))
    box(top, ix + 10.5, iy, ix + 14, iy + 22, "black")

fig.savefig("out.png", dpi=100, facecolor=fig.get_facecolor())
